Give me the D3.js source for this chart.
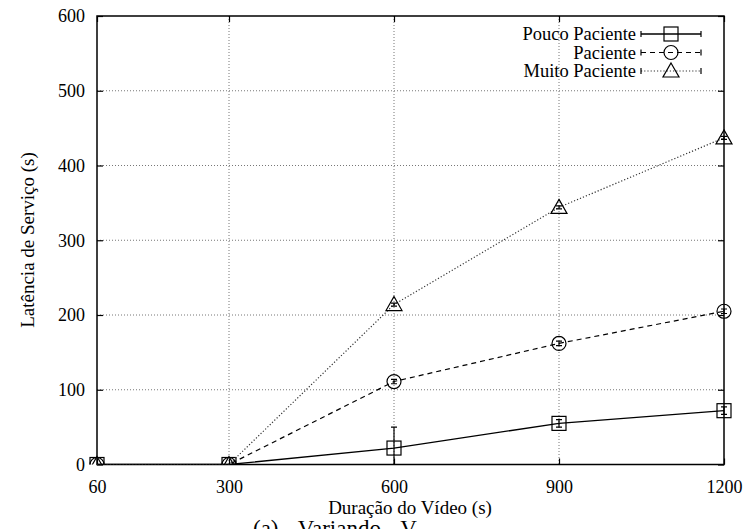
<!DOCTYPE html>
<html>
<head>
<meta charset="utf-8">
<script src="https://d3js.org/d3.v7.min.js"></script>
<style>
  html, body { margin: 0; padding: 0; background: #fff; }
  svg { display: block; }
  svg text { font-family: "Liberation Serif", "Times New Roman", Times, serif !important; fill: #000; }
</style>
</head>
<body>
<svg id="chart" width="749" height="529"></svg>
<script>
// Video duration (s) on the x axis
const durations = [60, 300, 600, 900, 1200];
const xTicks = [60, 300, 600, 900, 1200];
const yTicks = [0, 100, 200, 300, 400, 500, 600];

// Service latency (s) for each patience profile, with error half-widths
const seriesNames = ["Pouco Paciente", "Paciente", "Muito Paciente"];
const poucoPaciente = [0, 0, 22, 55, 72];
const poucoErr      = [0, 0, 28, 5, 5];
const paciente      = [0, 0, 111, 162, 205];
const pacienteErr   = [0, 0, 3, 3, 3];
const muitoPaciente = [0, 0, 214, 344, 437];
const muitoErr      = [0, 0, 2, 2, 2];

const FONT = "'Liberation Serif', 'Times New Roman', Times, serif";

const series = [
  { name: seriesNames[0], values: poucoPaciente, err: poucoErr, dash: null, color: "#000", width: 1.3, marker: "square" },
  { name: seriesNames[1], values: paciente, err: pacienteErr, dash: "5,4", color: "#000", width: 1.2, marker: "circle" },
  { name: seriesNames[2], values: muitoPaciente, err: muitoErr, dash: "1.2,2", color: "#333", width: 1.2, marker: "triangle" }
];

const svg = d3.select("#chart").attr("font-family", FONT);
const plotLeft = 97, plotRight = 724, plotTop = 16, plotBottom = 464.5;

const x = d3.scaleLinear().domain([60, 1200]).range([plotLeft, plotRight]);
const y = d3.scaleLinear().domain([0, 600]).range([plotBottom, plotTop]);

// Grid
const grid = svg.append("g");
grid.selectAll("line.gx").data(xTicks.filter(d => d !== 60 && d !== 1200)).enter()
  .append("line")
  .attr("x1", d => x(d)).attr("x2", d => x(d))
  .attr("y1", plotTop).attr("y2", plotBottom)
  .attr("stroke", "#777").attr("stroke-width", 1).attr("stroke-dasharray", "1,2");
grid.selectAll("line.gy").data(yTicks.filter(d => d !== 0 && d !== 600)).enter()
  .append("line")
  .attr("x1", plotLeft).attr("x2", plotRight)
  .attr("y1", d => y(d)).attr("y2", d => y(d))
  .attr("stroke", "#777").attr("stroke-width", 1).attr("stroke-dasharray", "1,2");

// Axes with inward ticks, mirrored on the opposite sides
const tickLen = 6;
const fmt = d3.format("d");
const axB = svg.append("g").attr("transform", `translate(0,${plotBottom})`)
  .call(d3.axisBottom(x).tickValues(xTicks).tickFormat(fmt).tickSize(-tickLen).tickPadding(16));
const axT = svg.append("g").attr("transform", `translate(0,${plotTop})`)
  .call(d3.axisTop(x).tickValues(xTicks).tickSize(-tickLen).tickFormat(""));
const axL = svg.append("g").attr("transform", `translate(${plotLeft},0)`)
  .call(d3.axisLeft(y).tickValues(yTicks).tickFormat(fmt).tickSize(-tickLen).tickPadding(12));
const axR = svg.append("g").attr("transform", `translate(${plotRight},0)`)
  .call(d3.axisRight(y).tickValues(yTicks).tickSize(-tickLen).tickFormat(""));
[axB, axT, axL, axR].forEach(a => {
  a.attr("font-family", FONT).attr("font-size", 18);
  a.select(".domain").remove();
  a.selectAll(".tick line").attr("stroke", "#000").attr("stroke-width", 1.2);
  a.selectAll("text").attr("fill", "#000");
});

// Frame
svg.append("rect").attr("x", plotLeft).attr("y", plotTop)
  .attr("width", plotRight - plotLeft).attr("height", plotBottom - plotTop)
  .attr("fill", "none").attr("stroke", "#000").attr("stroke-width", 1.5);

// Marker drawing
function drawMarker(g, type, cx, cy) {
  if (type === "square") {
    g.append("rect").attr("x", cx - 7).attr("y", cy - 7).attr("width", 14).attr("height", 14)
      .attr("fill", "none").attr("stroke", "#000").attr("stroke-width", 1.2);
  } else if (type === "circle") {
    g.append("circle").attr("cx", cx).attr("cy", cy).attr("r", 7)
      .attr("fill", "none").attr("stroke", "#000").attr("stroke-width", 1.2);
  } else {
    const s = 8;
    g.append("path").attr("d", `M${cx},${cy - s}L${cx + s},${cy + s * 0.75}L${cx - s},${cy + s * 0.75}Z`)
      .attr("fill", "none").attr("stroke", "#000").attr("stroke-width", 1.2);
  }
}

svg.append("clipPath").attr("id", "plotclip").append("rect")
  .attr("x", plotLeft - 10).attr("y", plotTop - 10)
  .attr("width", plotRight - plotLeft + 20).attr("height", plotBottom - plotTop + 10);

const line = d3.line().x(d => x(d[0])).y(d => y(d[1]));

series.forEach(s => {
  const g = svg.append("g").attr("clip-path", "url(#plotclip)");
  const pts = durations.map((d, i) => [d, s.values[i], s.err[i]]);
  g.append("path").datum(pts).attr("d", line)
    .attr("fill", "none").attr("stroke", s.color).attr("stroke-width", s.width)
    .attr("stroke-dasharray", s.dash);
  // error bars
  pts.forEach(p => {
    if (p[2] <= 0) return;
    const cx = x(p[0]);
    const lo = y(Math.max(0, p[1] - p[2])), hi = y(p[1] + p[2]);
    g.append("line").attr("x1", cx).attr("x2", cx).attr("y1", lo).attr("y2", hi)
      .attr("stroke", "#000").attr("stroke-width", 1.2);
    [lo, hi].forEach(yy => g.append("line").attr("x1", cx - 3).attr("x2", cx + 3)
      .attr("y1", yy).attr("y2", yy).attr("stroke", "#000").attr("stroke-width", 1.2));
  });
  pts.forEach(p => drawMarker(g, s.marker, x(p[0]), y(p[1])));
});

// Legend
const legend = svg.append("g").attr("font-family", FONT).attr("font-size", 18.5);
series.forEach((s, i) => {
  const ly = 34 + i * 18.5;
  legend.append("text").attr("x", 636).attr("y", ly).attr("dy", "0.33em")
    .attr("text-anchor", "end").text(s.name);
  legend.append("line").attr("x1", 641).attr("x2", 701).attr("y1", ly).attr("y2", ly)
    .attr("stroke", s.color).attr("stroke-width", s.width).attr("stroke-dasharray", s.dash);
  [641, 701].forEach(xx => legend.append("line").attr("x1", xx).attr("x2", xx)
    .attr("y1", ly - 3).attr("y2", ly + 3).attr("stroke", "#000").attr("stroke-width", 1.2));
  drawMarker(legend, s.marker, 671, ly);
});

// Axis titles
svg.append("text").attr("x", 410).attr("y", 514).attr("text-anchor", "middle")
  .attr("font-size", 19).text("Duração do Vídeo (s)");
svg.append("text").attr("transform", "translate(34,240) rotate(-90)").attr("text-anchor", "middle")
  .attr("font-size", 19).text("Latência de Serviço (s)");

// Caption
svg.append("text").attr("x", 253).attr("y", 536).attr("text-anchor", "start")
  .attr("font-size", 23).attr("word-spacing", 14).text("(a) Variando V");
</script>
</body>
</html>
